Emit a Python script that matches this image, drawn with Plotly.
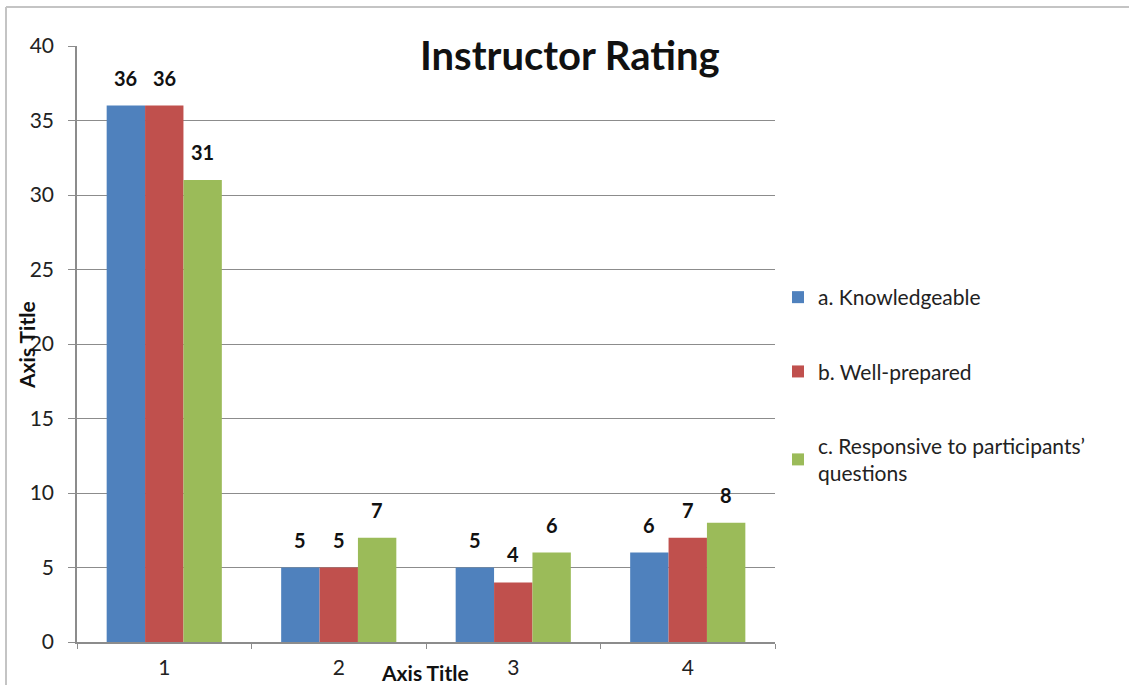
import plotly.graph_objects as go

categories = ["1", "2", "3", "4"]
knowledgeable = [36, 5, 5, 6]
well_prepared = [36, 5, 4, 7]
responsive = [31, 7, 6, 8]
series_names = ["a. Knowledgeable", "b. Well-prepared", "c. Responsive to participants’<br>questions"]
colors = ["#4F81BD", "#C0504D", "#9BBB59"]
y_ticks = [0, 5, 10, 15, 20, 25, 30, 35, 40]

FONT = "Lato, 'Open Sans', sans-serif"
BARGAP = 0.34

all_series = [knowledgeable, well_prepared, responsive]
n = len(all_series)
bar_w = (1 - BARGAP) / n

fig = go.Figure()
annotations = []
for i, (name, vals) in enumerate(zip(series_names, all_series)):
    fig.add_trace(go.Bar(
        x=categories, y=vals, name=name, marker_color=colors[i],
        marker_line_width=0, legendgroup=f"g{i}",
    ))
    off = (i - (n - 1) / 2) * bar_w
    for ci, v in enumerate(vals):
        annotations.append(dict(
            x=ci + off, y=v, xref="x", yref="y", text=f"<b>{v}</b>",
            showarrow=False, yanchor="bottom", xanchor="center", yshift=14,
            font=dict(family=FONT, size=20, color="#111"),
        ))

L, R, T, B = 77, 775, 46, 642
W, H = 1129, 685

def px_x(p):
    return (p - L) / (R - L)

def px_y(p):
    return (B - p) / (B - T)

annotations += [
    dict(text="<b>Instructor Rating</b>", x=px_x(570), y=px_y(55), xref="paper", yref="paper",
         showarrow=False, font=dict(size=40, color="#111"), xanchor="center", yanchor="middle"),
    dict(text="<b>Axis Title</b>", x=px_x(26), y=px_y(345), xref="paper", yref="paper",
         showarrow=False, textangle=-90, font=dict(size=21, color="#111"),
         xanchor="center", yanchor="middle"),
    dict(text="<b>Axis Title</b>", x=px_x(425), y=px_y(673), xref="paper", yref="paper",
         showarrow=False, font=dict(size=21, color="#111"),
         xanchor="center", yanchor="middle"),
]

fig.update_layout(
    width=W, height=H,
    margin=dict(l=L, r=W - R, t=T, b=H - B, autoexpand=False),
    paper_bgcolor="white", plot_bgcolor="white",
    barmode="group", bargap=BARGAP, bargroupgap=0,
    font=dict(family=FONT, size=20, color="#222"),
    showlegend=True,
    legend=dict(x=px_x(778), y=px_y(277), xanchor="left", yanchor="top",
                font=dict(size=21, color="#222"), tracegroupgap=44,
                itemwidth=30, bgcolor="rgba(0,0,0,0)"),
    xaxis=dict(type="category", range=[-0.5, 3.5], showline=True, linecolor="#8c8c8c",
               linewidth=1.5, ticks="outside", ticklen=5, tickcolor="#8c8c8c",
               tickson="boundaries", showgrid=False, ticklabelstandoff=6,
               tickfont=dict(size=21, color="#222"), automargin=False),
    yaxis=dict(range=[0, 40], tickvals=y_ticks, showline=True, linecolor="#8c8c8c",
               linewidth=1.5, ticks="outside", ticklen=7, tickcolor="#8c8c8c",
               showgrid=True, gridcolor="#8c8c8c", gridwidth=1, zeroline=False,
               ticklabelstandoff=10, tickfont=dict(size=21, color="#222"), automargin=False),
    annotations=annotations,
    shapes=[
        dict(type="line", xref="paper", yref="paper", x0=px_x(6), x1=px_x(1129),
             y0=px_y(7), y1=px_y(7), line=dict(color="#c4c4c4", width=2)),
        dict(type="line", xref="paper", yref="paper", x0=px_x(6), x1=px_x(6),
             y0=px_y(7), y1=px_y(685), line=dict(color="#c4c4c4", width=2)),
    ],
)

fig.write_html("out.html", config={"displayModeBar": False},
               post_script="document.body.style.margin='0';")
